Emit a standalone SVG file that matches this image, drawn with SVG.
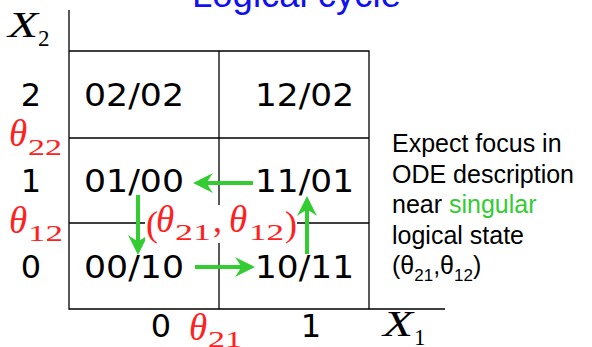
<svg xmlns="http://www.w3.org/2000/svg" width="592" height="347" viewBox="0 0 592 347">
<style>
.grid{stroke:#000;stroke-width:1.3;fill:none}
.cell{font-family:"DejaVu Sans",sans-serif;font-size:32px;fill:#000}
.ax{font-family:"DejaVu Sans",sans-serif;font-size:32px;fill:#000;text-anchor:middle}
.var{font-family:"Liberation Serif",serif;font-style:italic;font-size:35px;fill:#000}
.sub{font-family:"Liberation Serif",serif;font-size:23px;fill:#000}
.th{font-family:"Liberation Serif",serif;font-style:italic;font-size:37px;fill:#ff2020}
.thsub{font-family:"Liberation Serif",serif;font-size:24px;fill:#ff2020}
.par{font-family:"Liberation Serif",serif;font-size:36px;fill:#ff2020}
.note{font-family:"Liberation Sans",Arial,sans-serif;font-size:25px;fill:#000}
.arr{stroke:#33cc33;stroke-width:4;fill:none;marker-end:url(#ah)}
</style>
<defs>
<marker id="ah" viewBox="-34 -12 36 24" markerUnits="userSpaceOnUse" markerWidth="36" markerHeight="24" refX="-14" refY="0" orient="auto">
<path d="M0,0 L-20,-10 Q-15,-3 -14,0 Q-15,3 -20,10 Z" fill="#33cc33"/>
</marker>
</defs>
<rect width="592" height="347" fill="#fff"/>
<text id="title" x="192" y="7" style="font-family:'Liberation Sans',Arial,sans-serif;font-size:36.5px;fill:#1010f0">Logical cycle</text>
<g id="grid">
<path class="grid" d="M69,10 V309 H445"/>
<path class="grid" d="M69,51 H369 V309"/>
<path class="grid" d="M69,138 H369 M69,223 H369"/>
<path class="grid" d="M219,51 V309" stroke="#333"/>
</g>
<g id="axis-x2"><text class="var" x="8" y="37" textLength="30" lengthAdjust="spacingAndGlyphs">X</text><text class="sub" x="38" y="46">2</text></g>
<g id="axis-x1"><text class="var" x="383" y="336" textLength="30" lengthAdjust="spacingAndGlyphs">X</text><text class="sub" x="414" y="345">1</text></g>
<g id="ticks">
<text class="ax" x="31" y="106">2</text>
<text class="ax" x="31" y="192">1</text>
<text class="ax" x="31" y="278">0</text>
<text class="ax" x="161" y="337">0</text>
<text class="ax" x="311" y="337">1</text>
</g>
<g id="theta22"><text class="th" x="9" y="146">θ</text><text class="thsub" x="28" y="155" textLength="34" lengthAdjust="spacingAndGlyphs">22</text></g>
<g id="theta12"><text class="th" x="9" y="233">θ</text><text class="thsub" x="28" y="241" textLength="35" lengthAdjust="spacingAndGlyphs">12</text></g>
<g id="theta21"><text class="th" x="189" y="340">θ</text><text class="thsub" x="208" y="347" textLength="34" lengthAdjust="spacingAndGlyphs">21</text></g>
<g id="cell-02-02"><text class="cell" x="84" y="106" textLength="100" lengthAdjust="spacingAndGlyphs">02/02</text></g>
<g id="cell-12-02"><text class="cell" x="255" y="106" textLength="99" lengthAdjust="spacingAndGlyphs">12/02</text></g>
<g id="cell-01-00"><text class="cell" x="84" y="192" textLength="100" lengthAdjust="spacingAndGlyphs">01/00</text></g>
<g id="cell-11-01"><text class="cell" x="255" y="192" textLength="99" lengthAdjust="spacingAndGlyphs">11/01</text></g>
<g id="cell-00-10"><text class="cell" x="84" y="278" textLength="100" lengthAdjust="spacingAndGlyphs">00/10</text></g>
<g id="cell-10-11"><text class="cell" x="255" y="278" textLength="99" lengthAdjust="spacingAndGlyphs">10/11</text></g>
<g id="connectors">
<line class="arr" x1="253" y1="183" x2="207" y2="183"/>
<line class="arr" x1="138" y1="195" x2="138" y2="241"/>
<line class="arr" x1="195" y1="267" x2="241" y2="267"/>
<line class="arr" x1="307" y1="254" x2="307" y2="210"/>
</g>
<g id="singular-label">
<rect x="145" y="205" width="152" height="38" fill="#fff"/>
<text class="par" x="146" y="236">(</text>
<text class="th" x="156" y="232">θ</text>
<text class="thsub" x="175" y="240" textLength="36" lengthAdjust="spacingAndGlyphs">21</text>
<text class="par" x="213" y="232">,</text>
<text class="th" x="229" y="232">θ</text>
<text class="thsub" x="249" y="240" textLength="35" lengthAdjust="spacingAndGlyphs">12</text>
<text class="par" x="285" y="236">)</text>
</g>
<g id="note">
<text class="note" x="392" y="152">Expect focus in</text>
<text class="note" x="392" y="182.5">ODE description</text>
<text class="note" x="392" y="213">near <tspan fill="#33cc33">singular</tspan></text>
<text class="note" x="392" y="243.5">logical state</text>
<text class="note" x="392" y="274">(θ<tspan font-size="17" dy="7">21</tspan><tspan dy="-7">,θ</tspan><tspan font-size="17" dy="7">12</tspan><tspan dy="-7">)</tspan></text>
</g>
</svg>
